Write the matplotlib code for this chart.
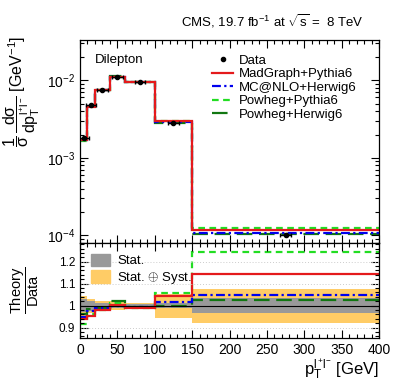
import numpy as np
import matplotlib
matplotlib.use("Agg")
import matplotlib.pyplot as plt
from matplotlib.lines import Line2D
from matplotlib.patches import Patch
from matplotlib.ticker import MultipleLocator, LogLocator, NullFormatter, FixedLocator

plt.rcParams['font.family'] = ['Liberation Sans', 'DejaVu Sans']
plt.rcParams['mathtext.fontset'] = 'custom'
plt.rcParams['mathtext.rm'] = 'Liberation Sans'
plt.rcParams['mathtext.it'] = 'Liberation Sans'
plt.rcParams['mathtext.bf'] = 'Liberation Sans:bold'

# ---- data ----
bin_edges = [0, 10, 20, 40, 60, 100, 150, 400]
data_vals = [1.8e-3, 4.8e-3, 7.6e-3, 1.1e-2, 9.5e-3, 2.85e-3, 1.02e-4]

ratio_madgraph = [0.94, 0.955, 0.98, 1.005, 0.99, 1.045, 1.142]
ratio_mcatnlo = [0.948, 0.975, 0.99, 1.0, 0.995, 1.015, 1.047]
ratio_powheg_py = [0.915, 0.96, 0.98, 1.01, 0.99, 1.058, 1.242]
ratio_powheg_hw = [0.962, 0.985, 0.99, 1.02, 0.995, 1.0, 1.026]

stat_unc = [0.03, 0.022, 0.012, 0.009, 0.006, 0.012, 0.033]
total_unc = [0.045, 0.032, 0.023, 0.02, 0.013, 0.055, 0.078]

edges = np.array(bin_edges, dtype=float)
data = np.array(data_vals)
centers = 0.5 * (edges[:-1] + edges[1:])

models = [
    ("MadGraph+Pythia6", ratio_madgraph, "#e41a1c", "-"),
    ("MC@NLO+Herwig6", ratio_mcatnlo, "#0000ee", (0, (4, 1.5, 1, 1.5))),
    ("Powheg+Pythia6", ratio_powheg_py, "#22dd22", (0, (3, 2))),
    ("Powheg+Herwig6", ratio_powheg_hw, "#117711", (0, (7, 3))),
]

fig = plt.figure(figsize=(3.99, 3.83), dpi=100)
ax = fig.add_axes([0.2005, 0.3655, 0.7495, 0.530])
axr = fig.add_axes([0.2005, 0.1175, 0.7495, 0.248], sharex=ax)

# main panel
draw_order = [2, 3, 1, 0]
for i in draw_order:
    name, r, c, ls = models[i]
    ax.stairs(data * np.array(r), edges, color=c, linestyle=ls, lw=1.6, baseline=None)
ax.errorbar(centers, data, yerr=data * np.array(stat_unc), xerr=7, fmt='o', color='black',
            ms=3, lw=1.0, capsize=1.5, zorder=10)
ax.set_yscale('log')
ax.set_ylim(8e-5, 0.033)
ax.set_xlim(0, 400)
ax.yaxis.set_major_locator(LogLocator(base=10, numticks=10))
ax.yaxis.set_minor_locator(LogLocator(base=10, subs=np.arange(2, 10), numticks=20))
ax.yaxis.set_minor_formatter(NullFormatter())
ax.tick_params(axis='x', labelbottom=False)
ax.set_ylabel(r'$\dfrac{1}{\sigma}\,\dfrac{d\sigma}{dp_{T}^{l^{+}l^{-}}}$ [GeV$^{-1}$]', fontsize=11.5,
              loc='top')
ax.yaxis.set_label_coords(-0.128, 1.02)
ax.text(0.05, 0.885, "Dilepton", transform=ax.transAxes, fontsize=9.5)
fig.text(0.91, 0.932, r'CMS, 19.7 fb$^{-1}$ at $\sqrt{s}$ =  8 TeV', ha='right', fontsize=9.5)

handles = [Line2D([], [], marker='o', color='black', ls='none', ms=3)]
labels = ["Data"]
for name, r, c, ls in models:
    handles.append(Line2D([], [], color=c, ls=ls, lw=1.6))
    labels.append(name)
ax.legend(handles, labels, loc='upper right', bbox_to_anchor=(0.955, 0.975), frameon=False,
          fontsize=9.5, handlelength=1.6, handletextpad=0.4, labelspacing=0.1, borderaxespad=0.3)

# ratio panel
lo_tot = 1 - np.array(total_unc)
hi_tot = 1 + np.array(total_unc)
lo_st = 1 - np.array(stat_unc)
hi_st = 1 + np.array(stat_unc)
for j in range(len(centers)):
    axr.fill_between([edges[j], edges[j + 1]], lo_tot[j], hi_tot[j], color='#ffcc66', lw=0)
    axr.fill_between([edges[j], edges[j + 1]], lo_st[j], hi_st[j], color='#999999', lw=0)
axr.axhline(1.0, color='black', lw=0.8)
for yv in [0.9, 1.1, 1.2]:
    axr.axhline(yv, color='#cccccc', lw=0.7, ls=(0, (1, 2)))
for i in draw_order:
    name, r, c, ls = models[i]
    axr.stairs(np.array(r), edges, color=c, linestyle=ls, lw=1.6, baseline=None)
axr.set_ylim(0.853, 1.285)
axr.yaxis.set_major_locator(FixedLocator([0.9, 1.0, 1.1, 1.2]))
axr.set_yticklabels(['0.9', '1', '1.1', '1.2'])
axr.yaxis.set_minor_locator(MultipleLocator(0.02))
axr.xaxis.set_major_locator(MultipleLocator(50))
axr.xaxis.set_minor_locator(MultipleLocator(10))
axr.set_ylabel(r'$\dfrac{\mathrm{Theory}}{\mathrm{Data}}$', fontsize=10.5)
axr.yaxis.set_label_coords(-0.13, 0.5)
axr.set_xlabel(r'$p_{T}^{l^{+}l^{-}}$ [GeV]', fontsize=12, loc='right', labelpad=1)
axr.legend([Patch(color='#999999'), Patch(color='#ffcc66')], ['Stat.', r'Stat. $\oplus$ Syst.'],
           loc='upper left', frameon=False, fontsize=9.5, handlelength=1.5, handleheight=1.1,
           handletextpad=0.5, labelspacing=0.2, borderaxespad=0.4)

for a in (ax, axr):
    a.tick_params(which='both', direction='in', top=True, right=True, labelsize=10, width=0.8)
    a.tick_params(which='major', length=6)
    a.tick_params(which='minor', length=3)
    for s in a.spines.values():
        s.set_linewidth(0.9)
axr.tick_params(axis='y', labelsize=8.5)

fig.savefig("out.png", dpi=100)
